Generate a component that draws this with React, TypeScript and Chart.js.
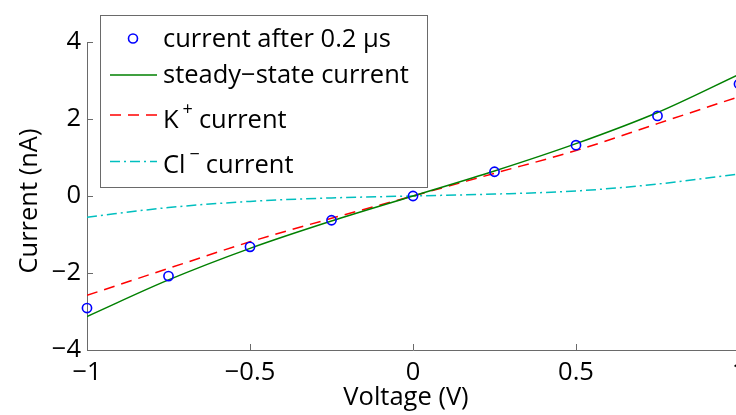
import React, { useEffect, useRef } from "react";
import { Chart, registerables } from "chart.js";

Chart.register(...registerables);

// ---- data ----
const voltage = [-1, -0.75, -0.5, -0.25, 0, 0.25, 0.5, 0.75, 1];
const currentAfter = [-2.91, -2.08, -1.32, -0.63, 0, 0.63, 1.32, 2.08, 2.91];
const steadyState = [-3.13, -2.18, -1.36, -0.65, 0, 0.65, 1.36, 2.17, 3.16];
const kCurrent = [-2.58, -1.88, -1.19, -0.58, 0, 0.59, 1.18, 1.88, 2.58];
const clCurrent = [-0.55, -0.3, -0.14, -0.05, 0, 0.05, 0.13, 0.31, 0.57];
const xTicks = [-1, -0.5, 0, 0.5, 1];
const yTicks = [-4, -2, 0, 2, 4];

const xTitle = "Voltage (V)";
const yTitle = "Current (nA)";
const legendMain = ["current after 0.2 μs", "steady−state current", "K", "Cl"];
const legendSup = ["", "", "+", "−"];
const legendRest = ["", "", "current", "current"];

const FONT = '"Open Sans", sans-serif';
const FS = 25.5;
const AXIS = "#6a6a6a";
const BLUE = "#0000ff";
const GREEN = "#008000";
const RED = "#ff0000";
const CYAN = "#00bfbf";

const fmt = (v: number) => String(v).replace("-", "−");

const pts = (ys: number[]) => voltage.map((x, i) => ({ x, y: ys[i] }));

const overlay = {
  id: "overlay",
  afterDraw(chart: any) {
    const ctx = chart.ctx as CanvasRenderingContext2D;
    const xs = chart.scales.x;
    const ys = chart.scales.y;
    const { left, bottom } = chart.chartArea;
    ctx.save();
    // inward ticks
    ctx.strokeStyle = AXIS;
    ctx.lineWidth = 1;
    ctx.beginPath();
    xTicks.forEach((v) => {
      const px = Math.round(xs.getPixelForValue(v)) + 0.5;
      ctx.moveTo(px, bottom);
      ctx.lineTo(px, bottom - 6);
    });
    yTicks.forEach((v) => {
      const py = Math.round(ys.getPixelForValue(v)) + 0.5;
      ctx.moveTo(left, py);
      ctx.lineTo(left + 6, py);
    });
    ctx.stroke();

    // axis titles
    ctx.fillStyle = "#000000";
    ctx.font = `${FS}px ${FONT}`;
    ctx.textAlign = "center";
    ctx.textBaseline = "alphabetic";
    ctx.fillText(xTitle, 406, 405);
    ctx.save();
    ctx.translate(37, 201);
    ctx.rotate(-Math.PI / 2);
    ctx.fillText(yTitle, 0, 0);
    ctx.restore();

    // legend box
    const bx = 100.5, by = 15.5, bw = 327, bh = 172;
    ctx.fillStyle = "#ffffff";
    ctx.fillRect(bx, by, bw, bh);
    ctx.strokeStyle = AXIS;
    ctx.lineWidth = 1;
    ctx.strokeRect(bx, by, bw, bh);

    const lineYs = [38.5, 75, 115, 161.5];
    const textYs = [40, 76, 121, 166];
    const x0 = 110, x1 = 157, tx = 163;

    // sample 1: circle
    ctx.strokeStyle = BLUE;
    ctx.lineWidth = 1.6;
    ctx.beginPath();
    ctx.arc(133, lineYs[0], 4.5, 0, Math.PI * 2);
    ctx.stroke();
    const sample = (y: number, color: string, dash: number[]) => {
      ctx.strokeStyle = color;
      ctx.lineWidth = 1.5;
      ctx.setLineDash(dash);
      ctx.beginPath();
      ctx.moveTo(x0, y);
      ctx.lineTo(x1, y);
      ctx.stroke();
      ctx.setLineDash([]);
    };
    sample(lineYs[1], GREEN, []);
    sample(lineYs[2], RED, [11, 7]);
    sample(lineYs[3], CYAN, [10, 4, 2, 4]);

    ctx.fillStyle = "#000000";
    ctx.textAlign = "left";
    ctx.textBaseline = "middle";
    legendMain.forEach((t, i) => {
      ctx.font = `${FS}px ${FONT}`;
      let cx = tx;
      ctx.fillText(t, cx, textYs[i]);
      cx += ctx.measureText(t).width;
      if (legendSup[i]) {
        cx += 4;
        ctx.font = `18px ${FONT}`;
        ctx.fillText(legendSup[i], cx, textYs[i] - 11);
        cx += ctx.measureText(legendSup[i]).width + 6;
        ctx.font = `${FS}px ${FONT}`;
        ctx.fillText(legendRest[i], cx, textYs[i]);
      }
    });
    ctx.restore();
  },
};

export default function App() {
  const ref = useRef<HTMLCanvasElement | null>(null);
  useEffect(() => {
    if (!ref.current) return;
    const chart = new Chart(ref.current, {
      type: "scatter",
      data: {
        datasets: [
          {
            label: "current after 0.2 μs",
            data: pts(currentAfter),
            showLine: false,
            pointStyle: "circle",
            pointRadius: 4.6,
            pointBorderWidth: 1.6,
            pointBorderColor: BLUE,
            pointBackgroundColor: "rgba(0,0,0,0)",
            borderColor: BLUE,
            clip: false,
          } as any,
          {
            label: "steady−state current",
            data: pts(steadyState),
            showLine: true,
            borderColor: GREEN,
            borderWidth: 1.5,
            pointRadius: 0,
            cubicInterpolationMode: "monotone",
          },
          {
            label: "K+ current",
            data: pts(kCurrent),
            showLine: true,
            borderColor: RED,
            borderWidth: 1.5,
            borderDash: [11, 7],
            pointRadius: 0,
            cubicInterpolationMode: "monotone",
          },
          {
            label: "Cl− current",
            data: pts(clCurrent),
            showLine: true,
            borderColor: CYAN,
            borderWidth: 1.5,
            borderDash: [10, 4, 2, 4],
            pointRadius: 0,
            cubicInterpolationMode: "monotone",
          },
        ],
      },
      options: {
        animation: false,
        responsive: false,
        devicePixelRatio: 1,
        layout: { padding: { top: 42, right: 21, bottom: 0, left: 0 } },
        plugins: { legend: { display: false }, tooltip: { enabled: false } },
        scales: {
          x: {
            type: "linear",
            min: -1,
            max: 1,
            afterBuildTicks: (s: any) => {
              s.ticks = xTicks.map((v) => ({ value: v }));
            },
            afterFit: (s: any) => {
              s.height = 65;
            },
            ticks: {
              color: "#000",
              font: { family: FONT, size: FS },
              padding: 7,
              maxRotation: 0,
              callback: (v: any) => fmt(Number(v)),
            },
            grid: { display: false, drawTicks: false },
            border: { display: true, color: AXIS, width: 1 },
          },
          y: {
            type: "linear",
            min: -4,
            max: 4,
            afterBuildTicks: (s: any) => {
              s.ticks = yTicks.map((v) => ({ value: v }));
            },
            afterFit: (s: any) => {
              s.width = 87;
            },
            ticks: {
              color: "#000",
              font: { family: FONT, size: FS },
              padding: 6,
              callback: (v: any) => fmt(Number(v)),
            },
            grid: { display: false, drawTicks: false },
            border: { display: true, color: AXIS, width: 1 },
          },
        },
      },
      plugins: [overlay],
    });
    return () => chart.destroy();
  }, []);
  return (
    <div
      style={{
        position: "absolute",
        left: 0,
        top: 0,
        width: 736,
        height: 415,
        overflow: "hidden",
        background: "#fff",
      }}
    >
      <canvas ref={ref} width={760} height={415} style={{ width: 760, height: 415, display: "block" }} />
    </div>
  );
}
